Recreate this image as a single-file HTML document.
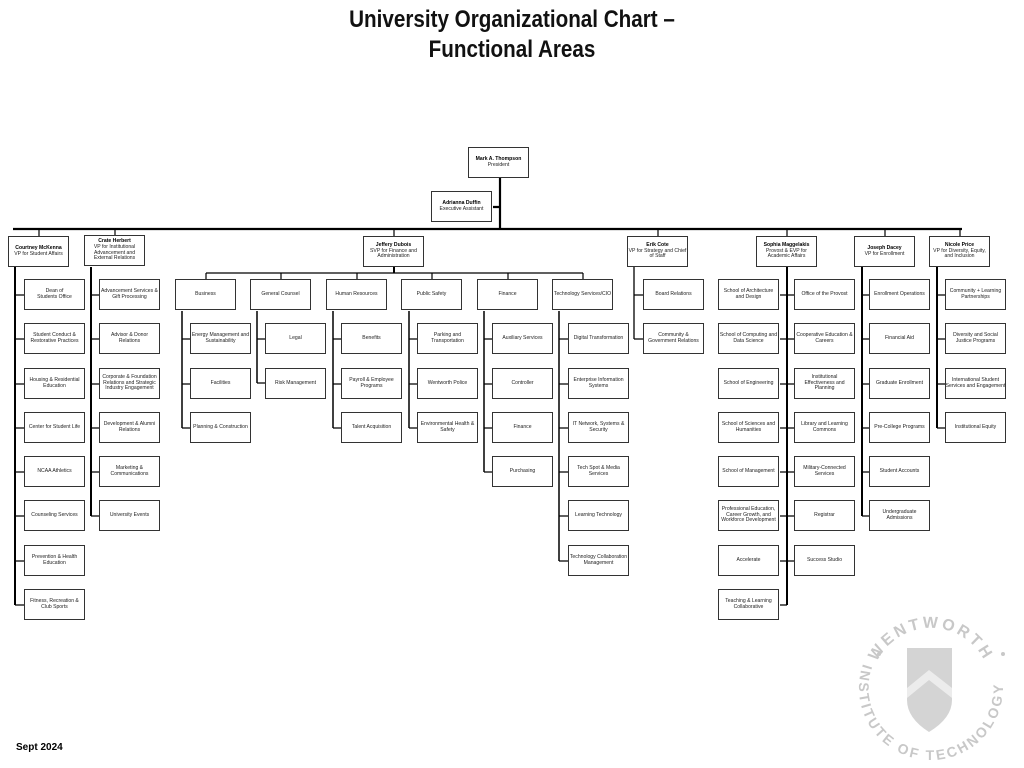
<!DOCTYPE html>
<html><head><meta charset="utf-8"><style>
body{margin:0;width:1024px;height:768px;background:#fff;position:relative;overflow:hidden;font-family:"Liberation Sans",sans-serif}
.t{position:absolute;left:0;width:1024px;text-align:center;font-weight:bold;font-size:24px;color:#111;transform:scaleX(0.86);transform-origin:512px 0}
.b{position:absolute;width:59px;height:29px;border:1.5px solid #333;background:#fff;display:flex;align-items:center;justify-content:center;text-align:center;font-size:5.1px;line-height:5.8px;color:#222;overflow:hidden;white-space:nowrap}
.b b{color:#000;font-size:5.1px}
svg{position:absolute;left:0;top:0}
</style></head><body>
<div class="t" style="top:6px">University Organizational Chart –</div>
<div class="t" style="top:36px">Functional Areas</div>
<div style="position:absolute;left:16px;top:742px;font-size:10px;font-weight:bold">Sept 2024</div>

<svg width="1024" height="768">
<g stroke="#000" fill="none">
<path d="M500 178V229M493 207H500M13 229H962" stroke-width="2.2"/>
<path d="M39 229V236M115 229V235M394 229V236M658 229V236M787 229V236M885 229V236M960 229V236" stroke-width="1.2"/>
<path d="M394 267V273" stroke-width="2"/>
<path d="M206 273H583M206 273V279M281 273V279M357 273V279M432 273V279M508 273V279M583 273V279" stroke-width="1.2"/>
<path d="M15 267V605M91 267V516M787 267V605M862 267V516M937 267V428" stroke-width="2"/>
<path d="M634 267V339" stroke-width="1.3"/>
<path d="M182 311V428M257 311V383M333 311V428M409 311V428M484 311V472M559 311V561" stroke-width="1.5"/>
<path stroke-width="1.2" d="
M15 295H24M15 339H24M15 384H24M15 428H24M15 472H24M15 516H24M15 561H24M15 605H24
M91 295H99M91 339H99M91 384H99M91 428H99M91 472H99M91 516H99
M182 339H190M182 384H190M182 428H190
M257 339H265M257 383H265
M333 339H341M333 384H341M333 428H341
M409 339H417M409 384H417M409 428H417
M484 339H492M484 384H492M484 428H492M484 472H492
M559 339H568M559 384H568M559 428H568M559 472H568M559 516H568M559 561H568
M634 295H643M634 339H643
M780 295H794M780 339H794M780 384H794M780 428H794M780 472H794M780 516H794M780 561H794M780 605H787
M862 295H869M862 339H869M862 384H869M862 428H869M862 472H869M862 516H869
M937 295H945M937 339H945M937 384H945M937 428H945"/>
</g>
<g fill="#c8c8c8" font-family="Liberation Sans,sans-serif" font-weight="bold">
<path id="ta" d="M876.6 662.6A60 60 0 0 1 985.4 662.6" fill="none"/>
<path id="ba" d="M863.3 663.4A72 72 0 1 0 1002.7 681.7" fill="none"/>
<path d="M907 648H952V700Q952 718 929 732Q907 718 907 700Z" fill="#d4d4d4"/>
<path d="M907 688L929 670L952 688V698L929 680L907 698Z" fill="#ececec"/>
<text font-size="16" letter-spacing="3" text-anchor="middle"><textPath href="#ta" startOffset="50%">WENTWORTH</textPath></text>
<text font-size="14" letter-spacing="2.5" text-anchor="middle"><textPath href="#ba" startOffset="50%">INSTITUTE OF TECHNOLOGY</textPath></text>
<circle cx="879" cy="654" r="2"/><circle cx="1003" cy="654" r="2"/>
</g>
</svg>

<div class="b" style="left:468px;top:147px"><div><b>Mark A. Thompson</b><br>President</div></div>
<div class="b" style="left:431px;top:191px"><div><b>Adrianna Duffin</b><br>Executive Assistant</div></div>

<div class="b" style="left:8px;top:236px"><div><b>Courtney McKenna</b><br>VP for Student Affairs</div></div>
<div class="b" style="left:84px;top:235px"><div><b>Crate Herbert</b><br>VP for Institutional<br>Advancement and<br>External Relations</div></div>
<div class="b" style="left:363px;top:236px"><div><b>Jeffery Dubois</b><br>SVP for Finance and<br>Administration</div></div>
<div class="b" style="left:627px;top:236px"><div><b>Erik Cote</b><br>VP for Strategy and Chief<br>of Staff</div></div>
<div class="b" style="left:756px;top:236px"><div><b>Sophia Maggelakis</b><br>Provost &amp; EVP for<br>Academic Affairs</div></div>
<div class="b" style="left:854px;top:236px"><div><b>Joseph Dacey</b><br>VP for Enrollment</div></div>
<div class="b" style="left:929px;top:236px"><div><b>Nicole Price</b><br>VP for Diversity, Equity,<br>and Inclusion</div></div>

<div class="b" style="left:24px;top:279px">Dean of<br>Students Office</div>
<div class="b" style="left:24px;top:323px">Student Conduct &amp;<br>Restorative Practices</div>
<div class="b" style="left:24px;top:368px">Housing &amp; Residential<br>Education</div>
<div class="b" style="left:24px;top:412px">Center for Student Life</div>
<div class="b" style="left:24px;top:456px">NCAA Athletics</div>
<div class="b" style="left:24px;top:500px">Counseling Services</div>
<div class="b" style="left:24px;top:545px">Prevention &amp; Health<br>Education</div>
<div class="b" style="left:24px;top:589px">Fitness, Recreation &amp;<br>Club Sports</div>
<div class="b" style="left:99px;top:279px">Advancement Services &amp;<br>Gift Processing</div>
<div class="b" style="left:99px;top:323px">Advisor &amp; Donor<br>Relations</div>
<div class="b" style="left:99px;top:368px">Corporate &amp; Foundation<br>Relations and Strategic<br>Industry Engagement</div>
<div class="b" style="left:99px;top:412px">Development &amp; Alumni<br>Relations</div>
<div class="b" style="left:99px;top:456px">Marketing &amp;<br>Communications</div>
<div class="b" style="left:99px;top:500px">University Events</div>
<div class="b" style="left:175px;top:279px">Business</div>
<div class="b" style="left:250px;top:279px">General Counsel</div>
<div class="b" style="left:326px;top:279px">Human Resources</div>
<div class="b" style="left:401px;top:279px">Public Safety</div>
<div class="b" style="left:477px;top:279px">Finance</div>
<div class="b" style="left:552px;top:279px">Technology Services/CIO</div>
<div class="b" style="left:190px;top:323px">Energy Management and<br>Sustainability</div>
<div class="b" style="left:190px;top:368px">Facilities</div>
<div class="b" style="left:190px;top:412px">Planning &amp; Construction</div>
<div class="b" style="left:265px;top:323px">Legal</div>
<div class="b" style="left:265px;top:368px">Risk Management</div>
<div class="b" style="left:341px;top:323px">Benefits</div>
<div class="b" style="left:341px;top:368px">Payroll &amp; Employee<br>Programs</div>
<div class="b" style="left:341px;top:412px">Talent Acquisition</div>
<div class="b" style="left:417px;top:323px">Parking and<br>Transportation</div>
<div class="b" style="left:417px;top:368px">Wentworth Police</div>
<div class="b" style="left:417px;top:412px">Environmental Health &amp;<br>Safety</div>
<div class="b" style="left:492px;top:323px">Auxiliary Services</div>
<div class="b" style="left:492px;top:368px">Controller</div>
<div class="b" style="left:492px;top:412px">Finance</div>
<div class="b" style="left:492px;top:456px">Purchasing</div>
<div class="b" style="left:568px;top:323px">Digital Transformation</div>
<div class="b" style="left:568px;top:368px">Enterprise Information<br>Systems</div>
<div class="b" style="left:568px;top:412px">IT Network, Systems &amp;<br>Security</div>
<div class="b" style="left:568px;top:456px">Tech Spot &amp; Media<br>Services</div>
<div class="b" style="left:568px;top:500px">Learning Technology</div>
<div class="b" style="left:568px;top:545px">Technology Collaboration<br>Management</div>
<div class="b" style="left:643px;top:279px">Board Relations</div>
<div class="b" style="left:643px;top:323px">Community &amp;<br>Government Relations</div>
<div class="b" style="left:718px;top:279px">School of Architecture<br>and Design</div>
<div class="b" style="left:718px;top:323px">School of Computing and<br>Data Science</div>
<div class="b" style="left:718px;top:368px">School of Engineering</div>
<div class="b" style="left:718px;top:412px">School of Sciences and<br>Humanities</div>
<div class="b" style="left:718px;top:456px">School of Management</div>
<div class="b" style="left:718px;top:500px">Professional Education,<br>Career Growth, and<br>Workforce Development</div>
<div class="b" style="left:718px;top:545px">Accelerate</div>
<div class="b" style="left:718px;top:589px">Teaching &amp; Learning<br>Collaborative</div>
<div class="b" style="left:794px;top:279px">Office of the Provost</div>
<div class="b" style="left:794px;top:323px">Cooperative Education &amp;<br>Careers</div>
<div class="b" style="left:794px;top:368px">Institutional<br>Effectiveness and<br>Planning</div>
<div class="b" style="left:794px;top:412px">Library and Learning<br>Commons</div>
<div class="b" style="left:794px;top:456px">Military-Connected<br>Services</div>
<div class="b" style="left:794px;top:500px">Registrar</div>
<div class="b" style="left:794px;top:545px">Success Studio</div>
<div class="b" style="left:869px;top:279px">Enrollment Operations</div>
<div class="b" style="left:869px;top:323px">Financial Aid</div>
<div class="b" style="left:869px;top:368px">Graduate Enrollment</div>
<div class="b" style="left:869px;top:412px">Pre-College Programs</div>
<div class="b" style="left:869px;top:456px">Student Accounts</div>
<div class="b" style="left:869px;top:500px">Undergraduate<br>Admissions</div>
<div class="b" style="left:945px;top:279px">Community + Learning<br>Partnerships</div>
<div class="b" style="left:945px;top:323px">Diversity and Social<br>Justice Programs</div>
<div class="b" style="left:945px;top:368px">International Student<br>Services and Engagement</div>
<div class="b" style="left:945px;top:412px">Institutional Equity</div>
</body></html>
